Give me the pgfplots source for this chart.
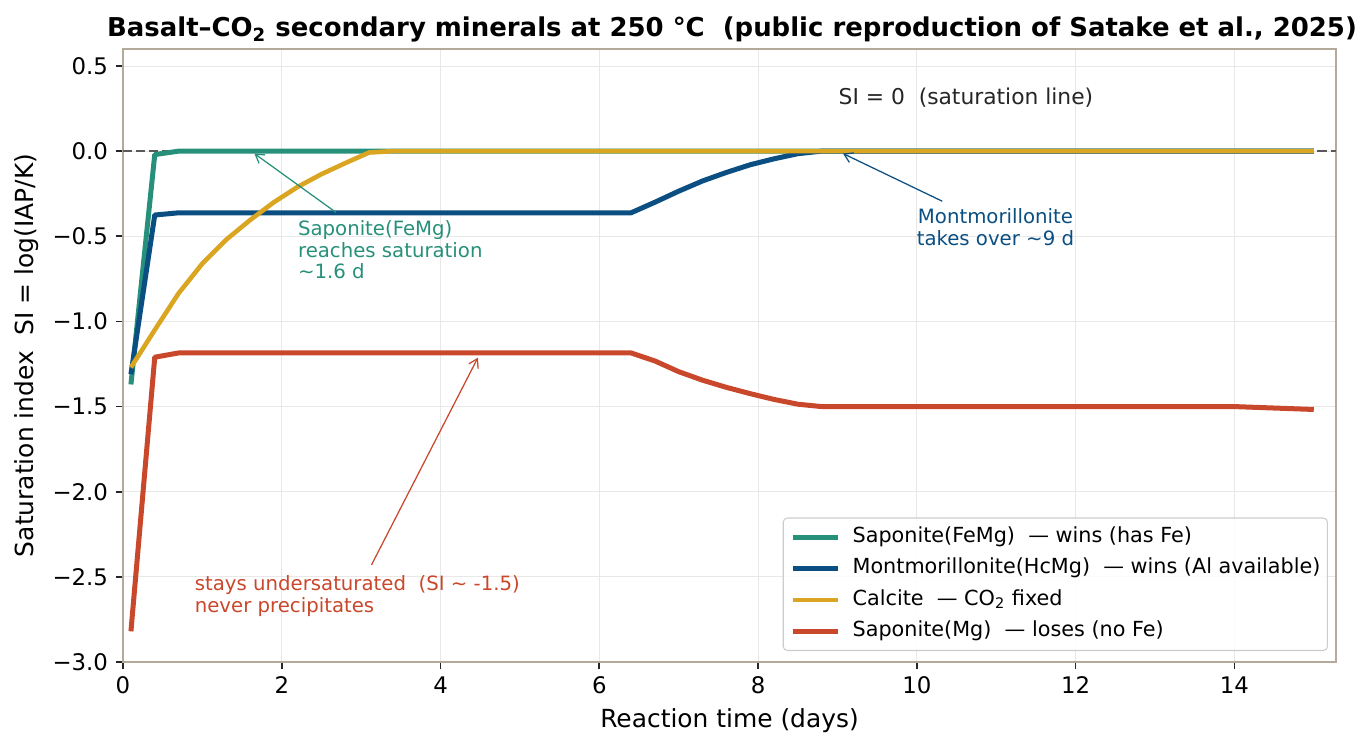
\documentclass[border=0pt]{standalone}
\usepackage{fontspec}
\setmainfont{DejaVu Sans}
\usepackage{pgfplots}
\pgfplotsset{compat=1.18}
\usetikzlibrary{arrows.meta}
\definecolor{cgreen}{HTML}{27907A}
\definecolor{cblue}{HTML}{0B4F82}
\definecolor{cgold}{HTML}{DAA520}
\definecolor{cred}{HTML}{C9472B}
\definecolor{cframe}{HTML}{B4AA9B}
\pgfplotstableread{
t si
0.1 -1.37
0.4 -0.02
0.7 0.0
15.0 0.0
}\sapfemg
\pgfplotstableread{
t si
0.1 -1.31
0.4 -0.375
0.7 -0.362
6.4 -0.362
6.7 -0.30
7.0 -0.235
7.3 -0.175
7.6 -0.125
7.9 -0.08
8.2 -0.045
8.5 -0.015
8.8 0.0
15.0 0.0
}\montm
\pgfplotstableread{
t si
0.1 -1.27
0.4 -1.05
0.7 -0.835
1.0 -0.66
1.3 -0.52
1.6 -0.405
1.9 -0.30
2.2 -0.21
2.5 -0.135
2.8 -0.07
3.1 -0.008
3.4 0.0
15.0 0.0
}\calcite
\pgfplotstableread{
t si
0.1 -2.82
0.4 -1.21
0.7 -1.185
6.4 -1.185
6.7 -1.232
7.0 -1.295
7.3 -1.345
7.6 -1.387
7.9 -1.424
8.2 -1.458
8.5 -1.486
8.8 -1.500
14.0 -1.500
15.0 -1.517
}\sapmg
\begin{document}
\begin{tikzpicture}
\path[use as bounding box] (-59.04bp,-40.8bp) rectangle (599.04bp,317.76bp);
\begin{axis}[
  at={(0,0)}, anchor=south west,
  scale only axis, width=582.24bp, height=294.24bp,
  xmin=0, xmax=15.28, ymin=-3, ymax=0.6,
  xtick={0,2,4,6,8,10,12,14},
  xticklabels={0,2,4,6,8,10,12,14},
  ytick={-3,-2.5,-2,-1.5,-1,-0.5,0,0.5},
  yticklabels={−3.0,−2.5,−2.0,−1.5,−1.0,−0.5,0.0,0.5},
  xtick pos=lower, ytick pos=left,
  tick align=outside, major tick length=3.5bp,
  tick style={black!85, line width=0.8bp},
  ticklabel style={font=\fontsize{11}{13}\selectfont, text=black},
  yticklabel style={inner sep=0pt, xshift=-3.5bp},
  xticklabel style={inner sep=0pt, yshift=-3.5bp},
  grid=major,
  major grid style={color=black!9, line width=0.5bp},
  axis line style={cframe, line width=1bp},
  legend cell align=left,
  legend image code/.code={\draw[#1] (0bp,0bp) -- (21.6bp,0bp);},
  legend style={at={(0.9934,0.0179)}, anchor=south east,
    draw=black!20, line width=0.5bp, rounded corners=2bp,
    fill=white, fill opacity=0.85, text opacity=1,
    font=\fontsize{10}{12}\selectfont,
    inner xsep=3.4bp, inner ysep=3.9bp,
    row sep=4.6bp,
    nodes={inner xsep=0pt, inner ysep=0pt, text height=7.8bp, text depth=2.7bp},
    /tikz/every odd column/.append style={column sep=5.9bp}},
]
\addplot[color=black!65, line width=1.2bp, dash pattern=on 4.4bp off 1.9bp, forget plot]
  coordinates {(0,0) (15.28,0)};
\addplot[cgreen, line width=2.4bp, line join=round] table[x=t,y=si] {\sapfemg};
\addlegendentry{Saponite(FeMg)\ \ — wins (has Fe)}
\addplot[cblue, line width=2.4bp, line join=round] table[x=t,y=si] {\montm};
\addlegendentry{Montmorillonite(HcMg)\ \ — wins (Al available)}
\addplot[cgold, line width=2.2bp, line join=round] table[x=t,y=si] {\calcite};
\addlegendentry{Calcite\ \ — CO\textsubscript{2} fixed}
\addplot[cred, line width=2.4bp, line join=round] table[x=t,y=si] {\sapmg};
\addlegendentry{Saponite(Mg)\ \ — loses (no Fe)}

\draw[cgreen, line width=0.6bp, -{Straight Barb[length=4bp,width=5bp]}]
  (axis cs:2.684,-0.36) -- (axis cs:1.655,-0.014);
\node[cgreen, anchor=north west, align=left, inner sep=0pt,
  font=\fontsize{9.5}{10.4}\selectfont] at (axis cs:2.2,-0.405)
  {Saponite(FeMg)\\reaches saturation\\\textasciitilde1.6 d};
\draw[cblue, line width=0.6bp, -{Straight Barb[length=4bp,width=5bp]}]
  (axis cs:10.32,-0.294) -- (axis cs:9.07,-0.014);
\node[cblue, anchor=north, align=center, inner sep=0pt,
  font=\fontsize{9.5}{10.4}\selectfont] at (axis cs:10.99,-0.335)
  {Montmorillonite\\takes over \textasciitilde9 d};
\draw[cred, line width=0.6bp, -{Straight Barb[length=4bp,width=5bp]}]
  (axis cs:3.13,-2.43) -- (axis cs:4.47,-1.213);
\node[cred, anchor=north west, align=left, inner sep=0pt,
  font=\fontsize{9.5}{10.4}\selectfont] at (axis cs:0.9,-2.49)
  {stays undersaturated\ \ (SI \textasciitilde{} -1.5)\\never precipitates};
\node[black!85, anchor=base west, inner sep=0pt,
  font=\fontsize{10.5}{12}\selectfont] at (axis cs:9.01,0.274)
  {SI = 0\ \ (saturation line)};
\end{axis}
\node[anchor=base, font=\fontsize{12}{14}\selectfont] at (291.12bp,-31.5bp)
  {Reaction time (days)};
\node[anchor=base, rotate=90, font=\fontsize{12}{14}\selectfont] at (-43.06bp,147.12bp)
  {Saturation index\ \ SI = log(IAP/K)};
\node[anchor=base, font=\fontsize{12.5}{14}\bfseries] at (292.3bp,300.1bp)
  {Basalt–CO\textsubscript{2} secondary minerals at 250 °C\ \ (public reproduction of Satake et al., 2025)};
\end{tikzpicture}
\end{document}
